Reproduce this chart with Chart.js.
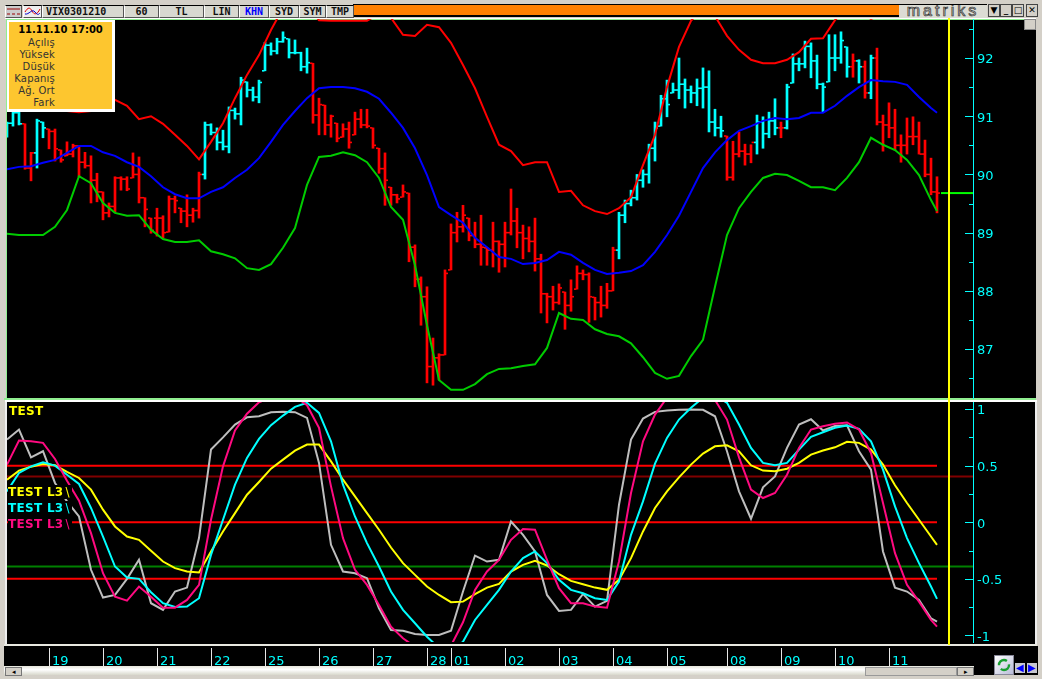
<!DOCTYPE html>
<html>
<head>
<meta charset="utf-8">
<title>VIX0301210</title>
<script src="https://cdn.jsdelivr.net/npm/chart.js@4/dist/chart.umd.min.js"></script>
<style>
  html, body { margin: 0; padding: 0; }
  body { position: relative; width: 1042px; height: 679px; overflow: hidden; background: #d4d0c8; font-family: "DejaVu Sans", sans-serif; }
  .abs, canvas { position: absolute; }
  .pane { position: absolute; background: #000; }
  .btn { position: absolute; top: 5px; height: 11px; line-height: 11px; background: #d8d8d0; border-top: 1px solid #000; border-left: 1px solid #fff; border-right: 1px solid #555; border-bottom: 1px solid #555; box-sizing: content-box; text-align: center; font: bold 10px/12px "DejaVu Sans Mono", monospace; color: #111; }
  .wbtn { position: absolute; top: 4px; width: 10px; height: 11px; background: #d4d0c8; border: 1px solid #444; font: bold 9px/11px "DejaVu Sans", sans-serif; text-align: center; color: #000; }
  #info { left: 7px; top: 20px; width: 103px; height: 87px; border: 2px solid #fff; border-right-width: 3px; border-bottom-width: 3px; background: #fdc62f; z-index: 5; color: #333; font-size: 10px; }
  #info div { position: absolute; right: 57px; white-space: nowrap; letter-spacing: .2px; }
  #info .when { left: 0; right: 0; top: 2px; text-align: center; font-weight: bold; font-size: 10px; color: #000; letter-spacing: 0; }
  .tag { position: absolute; left: 8px; width: 64px; z-index: 5; font: bold 12px/14px "DejaVu Sans", sans-serif; letter-spacing: .3px; background: #000; white-space: nowrap; }
  .tag i { font-style: normal; font-weight: normal; margin-left: 2px; }
</style>
</head>
<body>

<!-- toolbar -->
<div class="abs" style="left:353px;top:4px;width:547px;height:10px;background:#ff8000;border-top:1px solid #000;border-bottom:2px solid #000"></div>
<div class="btn" style="left:5px;width:15px;background:#ccc"><svg width="15" height="11"><path d="M1 3h13M1 8h3M6 8h3M11 8h3" stroke="#900" fill="none"/></svg></div>
<div class="btn" style="left:23px;width:17px;background:#eee"><svg width="17" height="11"><path d="M1 6C4 1 6 1 8 5S13 9 16 3" stroke="#d00" fill="none"/><path d="M1 8C5 9 8 2 11 6S15 8 16 7" stroke="#00c" fill="none"/></svg></div>
<div class="btn" style="left:42px;width:77px;text-align:left;padding-left:3px">VIX0301210</div>
<div class="btn" style="left:124px;width:33px">60</div>
<div class="btn" style="left:159px;width:43px">TL</div>
<div class="btn" style="left:204px;width:33px">LIN</div>
<div class="btn" style="left:239px;width:28px;color:#0000ff">KHN</div>
<div class="btn" style="left:269px;width:28px">SYD</div>
<div class="btn" style="left:299px;width:25px">SYM</div>
<div class="btn" style="left:326px;width:26px">TMP</div>
<div class="abs" style="left:899px;top:4px;width:88px;height:13px;background:#dcdcd4;border-top:1px solid #000;overflow:hidden;font:16px/12px 'Liberation Sans',sans-serif;letter-spacing:3px;text-align:center;color:#c8c8c0;-webkit-text-stroke:.7px #333">matriks</div>
<div class="wbtn" style="left:988px">&#9660;</div>
<div class="wbtn" style="left:1000px">_</div>
<div class="wbtn" style="left:1012px">&#9633;</div>
<div class="wbtn" style="left:1026px">&#10005;</div>

<!-- panes -->
<div class="pane" style="left:5px;top:18px;width:1031px;height:1px;background:#fff"></div>
<div class="pane" style="left:6px;top:19px;width:1030px;height:380px;border-top:1px solid #90ee90;border-left:1px solid #90ee90;box-sizing:border-box"></div>
<div class="pane" style="left:4px;top:398px;width:1032px;height:2px;background:#90ee90"></div>
<div class="pane" style="left:5px;top:400px;width:1032px;height:2px;background:#fff"></div>
<div class="pane" style="left:5px;top:402px;width:1032px;height:243px;border-left:2px solid #eee;border-right:2px solid #eee;box-sizing:border-box"></div>
<div class="pane" style="left:4px;top:644px;width:1033px;height:2px;background:#e8e8e0"></div>
<div class="pane" style="left:4px;top:646px;width:1034px;height:29px"></div>

<canvas id="priceChart" width="1042" height="400" style="left:0;top:0"></canvas>
<canvas id="oscChart" width="1042" height="279" style="left:0;top:400px"></canvas>

<!-- cursor -->
<div class="abs" style="left:948px;top:18px;width:2px;height:627px;background:#ffff00;z-index:4"></div>
<!-- little pane button -->
<div class="abs" style="left:1024px;top:19px;width:10px;height:9px;background:#d4d0c8;border:1px solid #888;z-index:4"></div>

<!-- info box -->
<div id="info" class="abs">
  <div class="when">11.11.10 17:00</div>
  <div style="top:15px">Açılış</div>
  <div style="top:27px">Yüksek</div>
  <div style="top:39px">Düşük</div>
  <div style="top:51px">Kapanış</div>
  <div style="top:63px">Ağ. Ort</div>
  <div style="top:75px">Fark</div>
</div>

<!-- oscillator labels -->
<div class="tag" style="left:9px;top:404px;width:auto;color:#ffff00">TEST</div>
<div class="tag" style="top:485px;color:#ffff00">TEST L3<i>\</i></div>
<div class="tag" style="top:501px;color:#00ffff">TEST L3<i>\</i></div>
<div class="tag" style="top:517px;color:#ff0a80">TEST L3<i>\</i></div>

<!-- scrollbar -->
<div class="abs" style="left:4px;top:666px;width:970px;height:9px;background:linear-gradient(#e6e6dc,#fff 40%,#d8d8cc);z-index:6"></div>
<div class="abs" style="left:5px;top:667px;width:15px;height:7px;background:#d4d0c8;border:1px solid #777;z-index:7;font:7px/7px sans-serif;text-align:center">&#9666;</div>
<div class="abs" style="left:865px;top:667px;width:90px;height:7px;background:#d4d0c8;border:1px solid #999;z-index:7"></div>
<div class="abs" style="left:957px;top:667px;width:15px;height:7px;background:#d4d0c8;border:1px solid #777;z-index:7;font:7px/7px sans-serif;text-align:center">&#9656;</div>

<!-- refresh and arrows -->
<div class="abs" style="left:994px;top:655px;width:18px;height:18px;background:linear-gradient(135deg,#fff,#b8bcd8);border:1px solid #889;z-index:7">
  <svg width="18" height="18"><circle cx="9" cy="9" r="5" stroke="#18a030" stroke-width="2.4" fill="none" stroke-dasharray="11 4"/></svg>
</div>
<div class="abs" style="left:1015px;top:663px;width:10px;height:10px;background:#c8c8d0;color:#0000ff;font:10px/10px sans-serif;text-align:center;z-index:7">&#9664;</div>
<div class="abs" style="left:1027px;top:663px;width:10px;height:10px;background:#c8c8d0;color:#0000ff;font:10px/10px sans-serif;text-align:center;z-index:7">&#9654;</div>

<script>
// hourly bars, index 0 is the left edge of the pane
const highs = [
  90.90,91.19,91.19,90.87,90.38,90.95,90.90,90.78,90.78,90.42,
  90.56,90.52,90.49,90.38,90.32,90.02,89.70,89.51,89.96,89.96,
  89.96,90.37,90.30,89.60,89.25,89.42,89.29,89.63,89.63,89.42,
  89.65,89.42,90.04,90.90,90.87,90.80,90.76,91.16,91.14,91.67,
  91.59,91.50,91.62,92.27,92.26,92.34,92.45,92.33,92.31,92.10,
  92.17,91.91,91.31,91.19,91.02,90.88,90.87,90.90,91.07,91.12,
  91.12,90.80,90.45,90.37,89.78,89.66,89.82,89.68,88.79,88.24,
  88.07,87.19,86.92,88.36,89.15,89.35,89.47,89.25,89.18,89.30,
  88.74,89.18,88.86,89.18,89.75,89.42,89.13,89.10,89.25,88.63,
  87.96,88.08,88.12,87.98,88.19,88.43,88.36,88.31,87.89,88.08,
  88.13,88.75,89.35,89.56,89.73,90.00,90.08,90.52,90.90,91.36,
  91.62,91.57,92.00,91.64,91.52,91.64,91.83,91.78,91.12,91.00,
  90.66,90.57,90.73,90.52,90.51,91.02,90.99,91.07,91.30,90.90,
  91.55,92.07,92.00,92.29,92.26,92.05,91.57,92.40,92.40,92.45,
  92.19,92.07,91.97,91.95,92.05,92.17,91.02,91.23,91.12,90.68,
  90.97,90.99,90.90,90.59,90.28,89.96
];
const lows = [
  90.64,90.83,90.85,90.09,89.89,90.11,90.63,90.44,90.23,90.21,
  90.32,90.30,89.96,90.11,89.51,89.53,89.22,89.27,89.35,89.73,
  89.72,89.94,89.51,89.10,88.99,88.94,88.91,89.01,89.34,89.17,
  89.10,89.18,89.25,89.92,90.68,90.42,90.42,90.37,90.95,90.85,
  91.33,91.26,91.23,91.78,92.05,92.07,92.27,92.00,92.07,91.78,
  91.74,90.88,90.68,90.68,90.64,90.56,90.64,90.45,90.68,90.80,
  90.80,90.45,90.02,89.47,89.47,89.51,89.61,88.50,88.07,87.41,
  86.42,86.38,86.47,86.90,88.36,88.84,89.01,88.86,88.74,88.44,
  88.44,88.41,88.32,88.41,88.96,88.74,88.55,88.67,88.34,87.62,
  87.45,87.67,87.77,87.34,87.65,88.03,88.19,87.46,87.50,87.55,
  87.70,88.00,88.55,89.17,89.46,89.56,89.78,89.85,90.23,90.83,
  90.99,91.40,91.30,91.14,91.23,91.18,91.14,90.73,90.66,90.64,
  89.90,89.90,90.30,90.16,90.20,90.35,90.45,90.63,90.68,90.63,
  90.78,91.57,91.78,91.83,91.66,91.47,91.07,91.59,91.78,91.91,
  91.67,91.67,91.57,91.31,91.30,90.85,90.40,90.63,90.42,90.21,
  90.35,90.51,90.35,89.96,89.65,89.34
];
const opens = [
  90.70,90.88,91.06,90.87,90.11,90.37,90.90,90.78,90.74,90.42,
  90.32,90.35,90.49,90.21,90.15,89.90,89.70,89.34,89.45,89.94,
  89.92,89.94,90.00,89.60,89.25,89.25,89.25,89.01,89.58,89.42,
  89.37,89.30,89.38,90.00,90.85,90.72,90.55,90.48,91.10,91.04,
  91.59,91.45,91.33,91.78,92.22,92.12,92.28,92.33,92.09,92.09,
  91.85,91.91,91.02,91.19,90.85,90.88,90.64,90.78,90.68,90.95,
  90.85,90.80,90.45,90.10,89.78,89.65,89.61,89.68,88.75,88.20,
  87.90,86.70,86.85,86.90,88.36,89.00,89.10,89.25,88.95,88.80,
  88.74,88.70,88.85,88.80,89.00,89.20,89.00,88.90,88.85,88.55,
  87.95,87.90,87.80,87.98,87.75,88.03,88.30,88.28,87.89,87.80,
  87.75,88.00,88.70,89.30,89.50,89.60,89.90,90.00,90.45,90.83,
  91.30,91.40,91.45,91.55,91.45,91.40,91.48,91.50,90.90,90.80,
  90.66,89.95,90.35,90.40,90.35,90.55,90.90,90.70,90.92,90.80,
  90.80,91.57,91.90,91.90,92.20,91.95,91.55,91.59,92.00,92.00,
  92.19,91.85,91.95,91.85,91.40,92.00,90.90,90.85,90.80,90.50,
  90.50,90.65,90.65,90.35,90.00,89.70
];
const closes = [
  90.88,91.06,90.87,90.11,90.37,90.92,90.80,90.74,90.44,90.25,
  90.35,90.49,90.21,90.15,89.90,89.70,89.34,89.45,89.94,89.92,
  89.75,90.00,89.60,89.40,89.04,89.25,89.00,89.58,89.55,89.37,
  89.30,89.38,90.00,90.85,90.72,90.55,90.48,91.10,91.04,91.62,
  91.45,91.33,91.58,92.22,92.12,92.28,92.35,92.09,92.09,91.85,
  91.92,91.02,91.20,90.85,91.00,90.62,90.78,90.55,90.95,90.85,
  90.83,90.50,90.10,89.90,89.65,89.58,89.70,88.75,88.20,87.90,
  86.70,86.85,86.90,88.30,89.00,89.10,89.30,88.95,88.80,88.75,
  88.70,88.85,88.80,89.00,89.20,89.00,88.90,88.85,88.55,87.95,
  87.90,87.80,88.05,87.75,87.90,88.30,88.28,87.90,87.80,87.75,
  88.00,88.70,89.30,89.50,89.60,89.90,90.00,90.45,90.80,91.30,
  91.20,91.45,91.55,91.45,91.40,91.48,91.50,90.90,90.80,90.75,
  89.95,90.35,90.40,90.35,90.55,90.90,90.70,90.92,90.80,90.80,
  91.50,91.90,91.90,92.20,91.95,91.55,91.50,92.00,92.00,92.30,
  91.85,91.95,91.85,91.40,92.00,90.90,90.85,90.80,90.50,90.50,
  90.65,90.65,90.35,90.00,89.70,89.68
];
// bars the system marks as "long", drawn cyan
const longBars = [
  0,1,2,5,6,33,34,35,36,37,38,39,40,41,42,43,44,45,46,47,48,49,50,
  102,103,104,105,106,107,108,109,110,111,112,113,114,115,116,117,118,119,
  125,126,127,128,130,131,132,133,134,135,136,137,138,139,140,142,144
];

// the smooth lines
const sampleBars = [
  0,2,4,6,8,10,12,14,16,18,20,22,24,26,28,30,32,34,36,38,
  40,42,44,46,48,50,52,54,56,58,60,62,64,66,68,70,72,74,76,78,
  80,82,84,86,88,90,92,94,96,98,100,102,104,106,108,110,112,114,116,118,
  120,122,124,126,128,130,132,134,136,138,140,142,144,146,148,150,152,154,155
];
const upperBand = [
  91.42,91.33,91.24,91.18,91.12,91.09,91.07,91.09,91.18,91.28,
  91.18,90.95,91.00,90.87,90.68,90.49,90.26,90.56,90.88,91.31,
  91.71,92.05,92.48,92.86,93.00,92.89,92.65,92.64,92.64,92.64,
  92.64,92.76,92.69,92.40,92.38,92.57,92.53,92.26,91.88,91.48,
  90.99,90.51,90.40,90.16,90.21,90.21,89.70,89.72,89.47,89.37,
  89.32,89.42,89.61,90.16,90.68,91.50,92.19,92.64,92.86,92.72,
  92.38,92.14,91.97,91.91,91.91,91.97,92.10,92.33,92.34,92.65,
  92.86,92.79,92.67,92.76,92.89,93.00,93.07,93.13,93.17
];
const middleBand = [
  90.09,90.13,90.14,90.20,90.25,90.37,90.49,90.49,90.38,90.32,
  90.21,90.13,89.97,89.78,89.66,89.59,89.59,89.70,89.78,89.94,
  90.08,90.28,90.56,90.85,91.09,91.31,91.48,91.50,91.50,91.48,
  91.42,91.30,91.06,90.80,90.45,89.99,89.44,89.30,89.17,88.91,
  88.75,88.58,88.55,88.46,88.48,88.53,88.67,88.62,88.48,88.36,
  88.29,88.31,88.34,88.44,88.67,88.96,89.29,89.70,90.11,90.38,
  90.59,90.75,90.83,90.92,90.97,90.95,90.97,91.06,91.06,91.18,
  91.35,91.50,91.62,91.60,91.59,91.54,91.33,91.14,91.06
];
const lowerBand = [
  88.98,88.96,88.96,88.96,89.10,89.39,89.97,89.85,89.51,89.34,
  89.29,89.30,89.05,88.89,88.84,88.84,88.87,88.68,88.63,88.56,
  88.39,88.36,88.46,88.74,89.08,89.82,90.30,90.32,90.38,90.33,
  90.21,89.94,89.44,89.22,88.44,87.41,86.47,86.30,86.30,86.40,
  86.57,86.66,86.67,86.71,86.74,87.02,87.62,87.52,87.50,87.34,
  87.26,87.22,87.10,86.86,86.59,86.49,86.54,86.88,87.16,88.07,
  88.96,89.42,89.70,89.94,90.01,89.99,89.89,89.78,89.78,89.73,
  89.94,90.21,90.63,90.51,90.42,90.25,89.99,89.56,89.37
];
const lastPrice = 89.68;

const testSlow = [
  0.376,0.456,0.491,0.515,0.503,0.444,0.391,0.288,0.111,-0.037,
  -0.126,-0.155,-0.252,-0.347,-0.405,-0.435,-0.444,-0.258,-0.081,0.081,
  0.243,0.356,0.473,0.553,0.633,0.686,0.686,0.538,0.376,0.228,
  0.081,-0.066,-0.223,-0.361,-0.465,-0.568,-0.642,-0.706,-0.701,-0.635,
  -0.577,-0.544,-0.435,-0.376,-0.341,-0.382,-0.459,-0.518,-0.547,-0.577,
  -0.597,-0.509,-0.317,-0.081,0.126,0.273,0.396,0.509,0.606,0.671,
  0.680,0.627,0.503,0.456,0.450,0.473,0.524,0.597,0.633,0.662,
  0.710,0.701,0.642,0.509,0.326,0.170,0.022,-0.126,-0.199
];
const testMid = [
  0.273,0.435,0.494,0.529,0.500,0.420,0.338,0.126,-0.126,-0.391,
  -0.488,-0.500,-0.618,-0.715,-0.748,-0.745,-0.671,-0.288,0.022,0.332,
  0.568,0.736,0.857,0.942,1.019,1.055,0.966,0.715,0.332,0.051,
  -0.184,-0.391,-0.612,-0.774,-0.892,-1.011,-1.110,-1.137,-1.055,-0.863,
  -0.730,-0.597,-0.435,-0.317,-0.258,-0.361,-0.509,-0.597,-0.627,-0.671,
  -0.686,-0.524,-0.111,0.184,0.518,0.745,0.907,1.011,1.100,1.120,
  1.055,0.863,0.657,0.524,0.503,0.524,0.642,0.754,0.795,0.834,
  0.854,0.825,0.715,0.465,0.140,-0.140,-0.361,-0.568,-0.677
];
const testFast = [
  0.509,0.721,0.715,0.701,0.559,0.367,0.190,-0.096,-0.450,-0.657,
  -0.692,-0.568,-0.657,-0.754,-0.754,-0.686,-0.553,0.022,0.494,0.810,
  0.958,1.060,1.100,1.120,1.110,1.034,0.834,0.317,-0.140,-0.420,
  -0.553,-0.730,-0.922,-1.025,-1.100,-1.140,-1.140,-1.090,-0.883,-0.597,
  -0.435,-0.332,-0.155,-0.060,-0.066,-0.332,-0.582,-0.715,-0.715,-0.745,
  -0.754,-0.347,0.258,0.715,0.951,1.100,1.120,1.140,1.140,1.080,
  0.907,0.573,0.288,0.214,0.258,0.420,0.657,0.819,0.848,0.869,
  0.881,0.819,0.612,0.170,-0.273,-0.553,-0.701,-0.863,-0.922
];
const testRaw = [
  0.730,0.819,0.573,0.627,0.347,0.184,0.051,-0.420,-0.665,-0.642,
  -0.500,-0.330,-0.715,-0.774,-0.612,-0.577,-0.140,0.642,0.750,0.863,
  0.927,0.936,0.972,0.975,0.972,0.922,0.524,-0.199,-0.435,-0.450,
  -0.494,-0.759,-0.951,-0.958,-0.987,-0.996,-0.996,-0.958,-0.612,-0.294,
  -0.347,-0.332,0.007,-0.111,-0.258,-0.642,-0.783,-0.774,-0.633,-0.745,
  -0.695,0.155,0.730,0.916,0.975,0.987,0.993,0.996,0.993,0.936,
  0.627,0.273,0.031,0.308,0.405,0.657,0.863,0.910,0.810,0.851,
  0.857,0.627,0.465,-0.258,-0.577,-0.612,-0.686,-0.848,-0.878
];
const redLevels = [0.5, 0, -0.5];
const darkRedLevel = 0.405;
const greenLevel = -0.39;

// axes
const priceTicks = [92.5,92,91.5,91,90.5,90,89.5,89,88.5,88,87.5,87,86.5];
const oscTicks = [1,0.75,0.5,0.25,0,-0.25,-0.5,-0.75,-1];
const oscLabels = [1,0.5,0,-0.5,-1];
const dayBars = [7,16,25,34,43,52,61,70,74,83,92,101,110,120,129,138,147];
const dayLabels = ['19','20','21','22','25','26','27','28','01','02','03','04','05','08','09','10','11'];
const lastBar = 155;
const rightBar = 161;

const CYAN = '#00ffff';
const RED = '#ff0000';

function pts(values) {
  return values.map((v, i) => ({ x: sampleBars[i], y: v }));
}
function barColor(i) {
  return longBars.includes(i) ? CYAN : RED;
}
function lineDs(data, color, order) {
  return { type: 'line', data: data, borderColor: color, borderWidth: 2, pointRadius: 0, tension: 0, order: order };
}

// tick marks point left of the axis line, chart.js only draws them outwards
const axisMarks = {
  id: 'axisMarks',
  afterDraw(chart) {
    const { ctx, scales: { x, y }, chartArea } = chart;
    ctx.save();
    ctx.lineWidth = 1;
    ctx.strokeStyle = CYAN;
    y.ticks.forEach(t => {
      const py = Math.round(y.getPixelForValue(t.value)) + 0.5;
      const len = t.label === '' ? 4 : 8;
      ctx.beginPath();
      ctx.moveTo(chartArea.right - len, py);
      ctx.lineTo(chartArea.right, py);
      ctx.stroke();
    });
    if (x.options.display) {
      ctx.strokeStyle = '#e8e8e8';
      x.ticks.forEach(t => {
        const px = Math.round(x.getPixelForValue(t.value)) + 0.5;
        ctx.beginPath();
        ctx.moveTo(px, chartArea.bottom + 6);
        ctx.lineTo(px, chartArea.bottom + 24);
        ctx.stroke();
      });
    }
    ctx.restore();
  }
};

function yAxis(min, max, ticks, label) {
  return {
    position: 'right',
    min: min,
    max: max,
    grid: { display: false, drawTicks: false },
    border: { display: true, color: CYAN, width: 1 },
    afterBuildTicks: s => { s.ticks = ticks.map(v => ({ value: v })); },
    // fixed gutter, and no room kept for the end labels
    afterFit: s => { s.width = 69; s.paddingTop = 0; s.paddingBottom = 0; },
    ticks: {
      color: CYAN,
      padding: 4,
      labelOffset: 2,
      autoSkip: false,
      font: { family: '"DejaVu Sans"', size: 13 },
      callback: label
    }
  };
}

new Chart(document.getElementById('priceChart'), {
  type: 'bar',
  plugins: [axisMarks],
  data: {
    datasets: [
      lineDs(pts(upperBand), RED, 1),
      lineDs(pts(middleBand), '#0000ff', 1),
      lineDs(pts(lowerBand), '#00cc00', 1),
      lineDs([{ x: 155.67, y: lastPrice }, { x: rightBar, y: lastPrice }], '#00ff00', 1),
      {
        type: 'bar',
        data: highs.map((h, i) => ({ x: i, y: [lows[i], h] })),
        backgroundColor: c => barColor(c.dataIndex),
        barThickness: 2,
        grouped: false,
        order: 3
      },
      {
        type: 'line',
        showLine: false,
        data: opens.map((v, i) => ({ x: i - 0.3, y: v })),
        pointStyle: 'line',
        pointRadius: 1.2,
        pointBorderWidth: 1.6,
        pointBorderColor: c => barColor(c.dataIndex),
        order: 2
      },
      {
        type: 'line',
        showLine: false,
        data: closes.map((v, i) => ({ x: i + 0.3, y: v })),
        pointStyle: 'line',
        pointRadius: 1.2,
        pointBorderWidth: 1.6,
        pointBorderColor: c => barColor(c.dataIndex),
        order: 2
      }
    ]
  },
  options: {
    responsive: false,
    animation: false,
    events: [],
    devicePixelRatio: 1,
    layout: { autoPadding: false, padding: { left: 7, top: 19, right: 0, bottom: 2 } },
    plugins: { legend: { display: false }, tooltip: { enabled: false } },
    scales: {
      // hidden axis still reserves its tick length unless told otherwise
      x: { type: 'linear', min: 0, max: rightBar, offset: false, display: false, grid: { drawTicks: false }, afterFit: s => { s.height = 0; } },
      y: yAxis(86.16, 92.67, priceTicks, v => (Number.isInteger(v) && v >= 87 ? String(v) : ''))
    }
  }
});

new Chart(document.getElementById('oscChart'), {
  type: 'line',
  plugins: [axisMarks],
  data: {
    datasets: [
      ...redLevels.map(v => lineDs([{ x: 0, y: v }, { x: lastBar, y: v }], RED, 9)),
      lineDs([{ x: 0, y: darkRedLevel }, { x: rightBar, y: darkRedLevel }], '#800000', 9),
      lineDs([{ x: 0, y: greenLevel }, { x: rightBar, y: greenLevel }], '#008000', 9),
      lineDs(pts(testRaw), '#bebebe', 6),
      lineDs(pts(testSlow), '#ffff00', 5),
      lineDs(pts(testMid), CYAN, 4),
      lineDs(pts(testFast), '#ff0a80', 3)
    ]
  },
  options: {
    responsive: false,
    animation: false,
    events: [],
    devicePixelRatio: 1,
    layout: { autoPadding: false, padding: { left: 7, top: 2, right: 0, bottom: 0 } },
    plugins: { legend: { display: false }, tooltip: { enabled: false } },
    scales: {
      x: {
        type: 'linear',
        min: 0,
        max: rightBar,
        offset: false,
        grid: { display: false, drawTicks: false },
        border: { display: false },
        afterBuildTicks: s => { s.ticks = dayBars.map(v => ({ value: v })); },
        afterFit: s => { s.height = 37; },
        ticks: {
          color: CYAN,
          padding: 12,
          align: 'start',
          labelOffset: 3,
          autoSkip: false,
          maxRotation: 0,
          font: { family: '"DejaVu Sans"', size: 13 },
          callback: v => dayLabels[dayBars.indexOf(v)]
        }
      },
      y: yAxis(-1.0575, 1.062, oscTicks, v => (oscLabels.includes(v) ? String(v) : ''))
    }
  }
});
</script>
</body>
</html>
